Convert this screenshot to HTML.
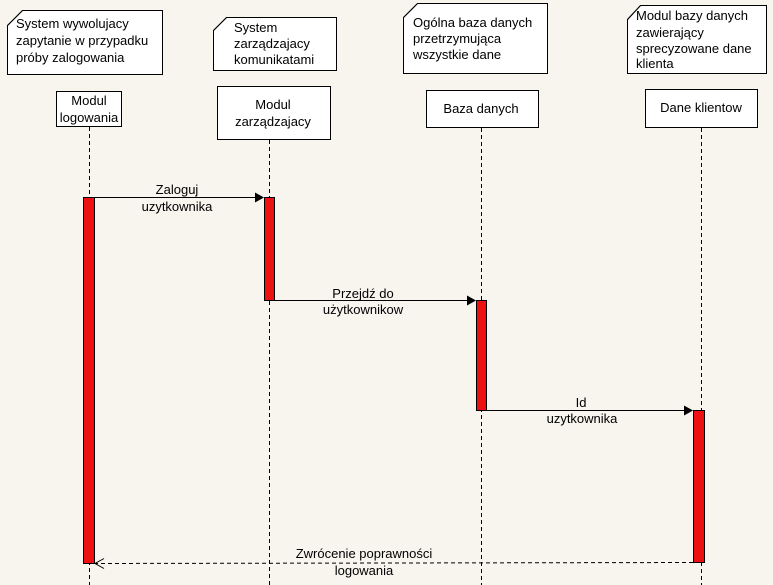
<!DOCTYPE html>
<html><head><meta charset="utf-8"><style>
html,body{margin:0;padding:0;background:#f8f5ef;}
svg{display:block;}
text{font-family:"Liberation Sans",sans-serif;font-size:13px;fill:#000;}
</style></head><body>
<svg width="773" height="585" viewBox="0 0 773 585" xmlns="http://www.w3.org/2000/svg">
<rect width="773" height="585" fill="#f8f5ef"/>
<g stroke="#000" stroke-width="1" fill="#fff">
<path d="M22.5 10.5H162.5V74.5H7.5V25.5Z"/><path d="M22.5 10.5L7.5 25.5" fill="none"/>
<path d="M226.5 17.5H336.5V70.5H213.5V30.5Z"/><path d="M226.5 17.5L213.5 30.5" fill="none"/>
<path d="M417.5 3.5H547.5V73.5H403.5V17.5Z"/><path d="M417.5 3.5L403.5 17.5" fill="none"/>
<path d="M640.5 5.5H766.5V73.5H627.5V19.5Z"/><path d="M640.5 5.5L627.5 19.5" fill="none"/>
<rect x="56.5" y="91.5" width="65" height="35"/>
<rect x="217.5" y="86.5" width="113" height="53"/>
<rect x="426.5" y="90.5" width="112" height="37"/>
<rect x="645.5" y="89.5" width="112" height="38"/>
</g>
<g stroke="#000" stroke-dasharray="4,3">
<line x1="89.5" y1="127" x2="89.5" y2="585"/>
<line x1="269.5" y1="140" x2="269.5" y2="585"/>
<line x1="481.5" y1="128" x2="481.5" y2="585"/>
<line x1="701.5" y1="128" x2="701.5" y2="585"/>
</g>
<g fill="#ee1111" stroke="#000">
<rect x="83.5" y="197.5" width="11" height="366"/>
<rect x="264.5" y="197.5" width="10" height="103"/>
<rect x="476.5" y="300.5" width="10" height="110"/>
<rect x="693.5" y="410.5" width="11" height="152"/>
</g>
<g stroke="#000">
<line x1="94" y1="197.5" x2="256" y2="197.5"/>
<line x1="274" y1="300.5" x2="468" y2="300.5"/>
<line x1="486" y1="410.5" x2="685" y2="410.5"/>
<line x1="693" y1="562.5" x2="96" y2="563.5" stroke-dasharray="4,3"/>
<path d="M104 558.5L95 563.5L104 568.5" fill="none"/>
</g>
<g fill="#000">
<path d="M264 197.5L255 192.5V202.5Z"/>
<path d="M476 300.5L467 295.5V305.5Z"/>
<path d="M693 410.5L684 405.5V415.5Z"/>
</g>
<text x="16" y="28">System wywolujacy</text>
<text x="16" y="45">zapytanie w przypadku</text>
<text x="16" y="62">próby zalogowania</text>
<text x="234" y="32">System</text>
<text x="234" y="48">zarządzajacy</text>
<text x="234" y="64">komunikatami</text>
<text x="413" y="27">Ogólna baza danych</text>
<text x="413" y="43">przetrzymująca</text>
<text x="413" y="59">wszystkie dane</text>
<text x="636" y="20">Modul bazy danych</text>
<text x="636" y="37">zawierający</text>
<text x="636" y="53">sprecyzowane dane</text>
<text x="636" y="68">klienta</text>
<g text-anchor="middle">
<text x="89" y="105">Modul</text>
<text x="89" y="122">logowania</text>
<text x="273" y="109">Modul</text>
<text x="273" y="126">zarządzajacy</text>
<text x="481" y="113">Baza danych</text>
<text x="701" y="112">Dane klientow</text>
<text x="177" y="194">Zaloguj</text>
<text x="177" y="211">uzytkownika</text>
<text x="363" y="298">Przejdź do</text>
<text x="363" y="314">użytkownikow</text>
<text x="581" y="407">Id</text>
<text x="582" y="423">uzytkownika</text>
<text x="364" y="558">Zwrócenie poprawności</text>
<text x="364" y="575">logowania</text>
</g>
</svg>
</body></html>
